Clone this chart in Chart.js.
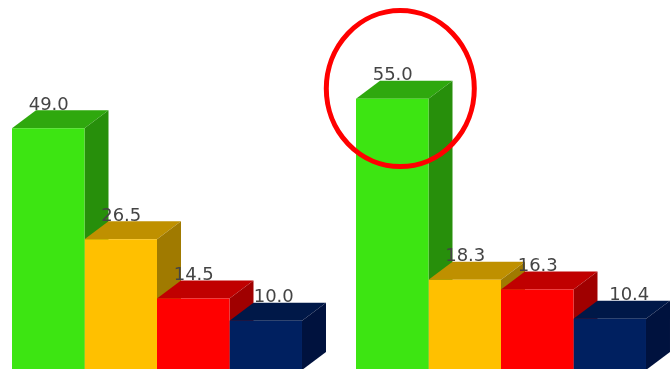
<!DOCTYPE html>
<html>
<head>
<meta charset="utf-8">
<title>3D bars</title>
<script src="https://cdn.jsdelivr.net/npm/chart.js@4/dist/chart.umd.min.js"></script>
<style>
  html, body { margin: 0; padding: 0; background: #fff; overflow: hidden; width: 671px; height: 369px; }
  /* the first group sits a little past the left edge of the plot, so the canvas starts off-page */
  #wrap { position: absolute; left: -15px; top: 0; width: 688px; height: 370px; }
</style>
</head>
<body>
<div id="wrap"><canvas id="bars" width="688" height="370"></canvas></div>
<script>
const categories = ["Group 1", "Group 2"];
const green = [49.0, 55.0];
const orange = [26.5, 18.3];
const red = [14.5, 16.3];
const navy = [10.0, 10.4];

const DEPTH_X = 24;
const DEPTH_Y = 18;

// front, top, side
const shades = [
  ["#3de512", "#2fa80e", "#278f0b"],
  ["#ffc000", "#bf9000", "#a07a00"],
  ["#ff0000", "#c00000", "#a00000"],
  ["#002060", "#001848", "#00123e"]
];

// the navy labels are pushed right of their bars in the original
const labelShift = [[0, 0], [0, 0], [0, 0], [7.5, 19]];

function face(ctx, pts, color) {
  ctx.fillStyle = color;
  ctx.beginPath();
  pts.forEach((p, i) => i ? ctx.lineTo(p[0], p[1]) : ctx.moveTo(p[0], p[1]));
  ctx.closePath();
  ctx.fill();
}

// Top and side faces go behind the bars that Chart.js draws
const depthFaces = {
  id: "depthFaces",
  beforeDatasetsDraw(chart) {
    const ctx = chart.ctx;
    ctx.save();
    chart.data.labels.forEach((_, c) => {
      chart.data.datasets.forEach((ds, s) => {
        const bar = chart.getDatasetMeta(s).data[c];
        const l = bar.x - bar.width / 2, r = bar.x + bar.width / 2;
        face(ctx, [[l, bar.y], [l + DEPTH_X, bar.y - DEPTH_Y], [r + DEPTH_X, bar.y - DEPTH_Y], [r, bar.y]], shades[s][1]);
        face(ctx, [[r, bar.y], [r + DEPTH_X, bar.y - DEPTH_Y], [r + DEPTH_X, bar.base - DEPTH_Y], [r, bar.base]], shades[s][2]);
      });
    });
    ctx.restore();
  }
};

// Value labels and the red ring around the tallest bar's label
const overlay = {
  id: "overlay",
  afterDatasetsDraw(chart) {
    const ctx = chart.ctx;
    ctx.save();
    ctx.font = '18px "DejaVu Sans"';
    ctx.fillStyle = "#444444";
    ctx.textAlign = "center";
    ctx.textBaseline = "alphabetic";
    chart.data.datasets.forEach((ds, s) => {
      chart.getDatasetMeta(s).data.forEach((bar, c) => {
        ctx.fillText(ds.data[c].toFixed(1), bar.x + 0.5 + labelShift[s][c], bar.y - DEPTH_Y - 0.5);
      });
    });
    ctx.strokeStyle = "#ff0000";
    ctx.lineWidth = 5;
    ctx.beginPath();
    ctx.ellipse(415.3, 88.6, 74, 78, 0, 0, Math.PI * 2);
    ctx.stroke();
    ctx.restore();
  }
};

new Chart("bars", {
  type: "bar",
  data: {
    labels: categories,
    datasets: [green, orange, red, navy].map((values, s) => ({
      data: values,
      backgroundColor: shades[s][0],
      borderWidth: 0,
      barPercentage: 1,
      categoryPercentage: 0.843
    }))
  },
  options: {
    responsive: false,
    animation: false,
    layout: { padding: 0 },
    plugins: { legend: { display: false }, tooltip: { enabled: false } },
    scales: {
      x: { display: false },
      y: { display: false, min: 0, max: 75 }
    }
  },
  plugins: [depthFaces, overlay]
});
</script>
</body>
</html>
